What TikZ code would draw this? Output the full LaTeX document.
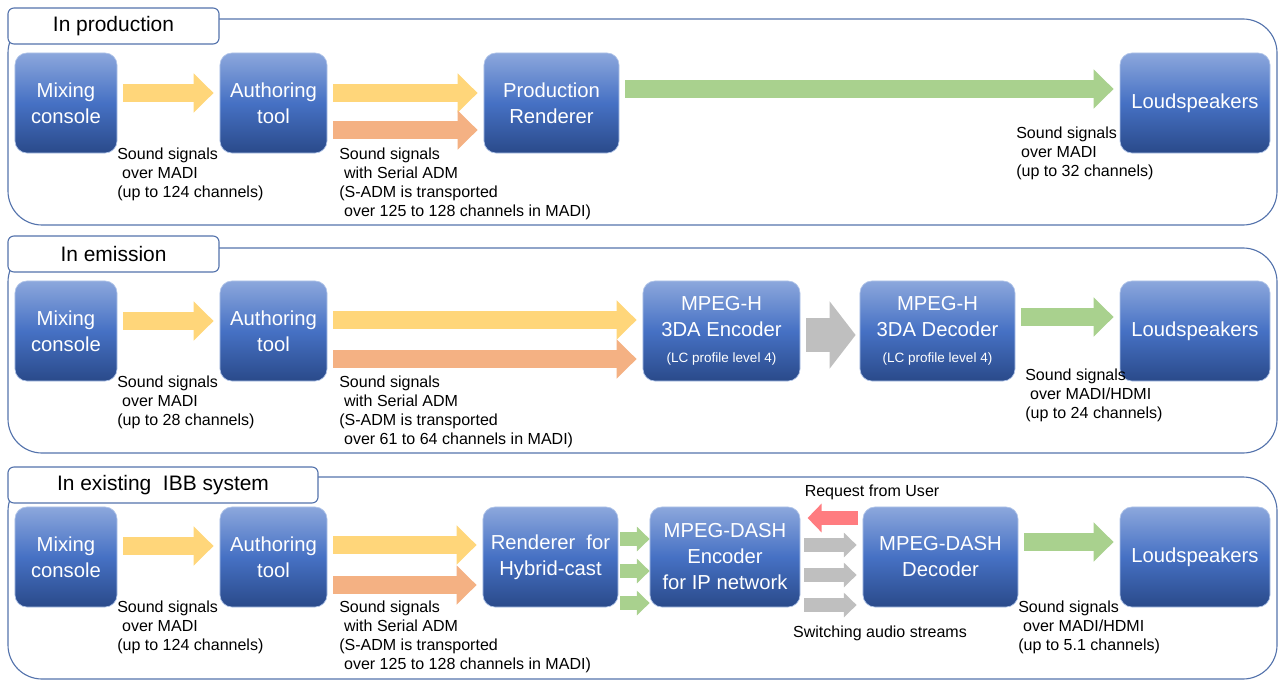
\documentclass[tikz,border=0pt]{standalone}
\usepackage{fontspec}
\setmainfont{Liberation Sans}
\usetikzlibrary{arrows.meta,calc,positioning}

\definecolor{panelline}{RGB}{84,115,172}
\definecolor{boxtop}{RGB}{140,167,220}
\definecolor{boxmid}{RGB}{70,113,196}
\definecolor{boxbot}{RGB}{42,74,138}
\definecolor{boxedge}{RGB}{176,196,232}
\definecolor{madiyellow}{RGB}{255,214,122}
\definecolor{admorange}{RGB}{244,177,131}
\definecolor{outgreen}{RGB}{169,209,142}
\definecolor{codecgray}{RGB}{191,191,191}
\definecolor{requestred}{RGB}{255,124,128}

\newcommand{\boxfont}{\fontsize{14.4}{18.5}\selectfont}
\newcommand{\notefont}{\fontsize{11.4}{13.3}\selectfont}
\newcommand{\tabfont}{\fontsize{14.9}{18}\selectfont}
\newcommand{\lcfont}{\fontsize{9.6}{10}\selectfont}
\newcommand{\indsp}{\hspace*{0.3em}}

\begin{document}
\begin{tikzpicture}[
    x = 0.025cm,
    y = -0.025cm
  ]
  \tikzstyle{block} = [
    draw = boxedge, line width = 0.5pt,
    rectangle, rounded corners = 0.3cm,
    top color = boxtop, bottom color = boxbot, middle color = boxmid,
    text = white,
    text centered,
    align          = center,
    font           = \boxfont,
    inner sep      = 1pt,
    minimum height = 2.5cm
  ]
  \tikzstyle{panel} = [draw = panelline, line width = 0.8pt, rounded corners = 0.85cm]
  \tikzstyle{tab}   = [
    draw = panelline, line width = 0.8pt, fill = white,
    rounded corners = 0.15cm,
    font           = \tabfont,
    minimum height = 0.9cm
  ]
  \tikzstyle{note}  = [anchor = north west, inner sep = 0pt, align = left, font = \notefont]
  \tikzstyle{fat}   = [line width = 0.45cm, -{Triangle[length=0.5cm,width=0.95cm]},
                       shorten <= 0.15cm, shorten >= 0.15cm]
  \tikzstyle{slim}  = [line width = 0.35cm, -{Triangle[length=0.32cm,width=0.6cm]},
                       shorten <= 0.1cm, shorten >= 0.1cm]

  \useasboundingbox (0,0) rectangle (1279,682);

  % frames
  \draw [panel] (8,19)  rectangle (1277,225);
  \draw [panel] (8,248) rectangle (1277,453);
  \draw [panel] (8,477) rectangle (1277,679);

  \node [tab, minimum width = 5.275cm] (tabprod) at (113.5,26)  {In production};
  \node [tab, minimum width = 5.275cm] (tabemis) at (113.5,254) {In emission};
  \node [tab, minimum width = 7.75cm]  (tabibb)  at (163,485)   {In existing\ \ IBB system};

  % in production
  \node [block, minimum width = 2.55cm]  (mixing1)    at (66,103)    {Mixing\\console};
  \node [block, minimum width = 2.675cm] (authoring1) at (273.5,103) {Authoring\\tool};
  \node [block, minimum width = 3.375cm] (renderer1)  at (551.5,103) {Production\\Renderer};
  \node [block, minimum width = 3.75cm]  (speakers1)  at (1195,103)  {Loudspeakers};

  \draw [fat, madiyellow] ([yshift=0.25cm]mixing1.east)    -- ([yshift=0.25cm]authoring1.west);
  \draw [fat, madiyellow] ([yshift=0.25cm]authoring1.east) -- ([yshift=0.25cm]renderer1.west);
  \draw [fat, admorange]  ([yshift=-0.675cm]authoring1.east) -- ([yshift=-0.675cm]renderer1.west);
  \draw [fat, outgreen]   ([yshift=0.35cm]renderer1.east)  -- ([yshift=0.35cm]speakers1.west);

  \node [note] (madi1) at (117,148)  {Sound signals\\\indsp over MADI\\(up to 124 channels)};
  \node [note] (sadm1) at (339,148)  {Sound signals\\\indsp with Serial ADM\\(S-ADM is transported\\\indsp over 125 to 128 channels in MADI)};
  \node [note] (out1)  at (1016,127) {Sound signals\\\indsp over MADI\\(up to 32 channels)};

  % in emission
  \node [block, minimum width = 2.55cm]  (mixing2)    at (66,331)    {Mixing\\console};
  \node [block, minimum width = 2.675cm] (authoring2) at (273.5,331) {Authoring\\tool};
  \node [block, minimum width = 3.925cm] (encoder2)   at (721.5,331) {MPEG-H\\3DA Encoder\\{\lcfont (LC profile level 4)}};
  \node [block, minimum width = 3.875cm] (decoder2)   at (937.5,331) {MPEG-H\\3DA Decoder\\{\lcfont (LC profile level 4)}};
  \node [block, minimum width = 3.75cm]  (speakers2)  at (1195,331)  {Loudspeakers};

  \draw [fat, madiyellow] ([yshift=0.25cm]mixing2.east)    -- ([yshift=0.25cm]authoring2.west);
  \draw [fat, madiyellow] ([yshift=0.275cm]authoring2.east) -- ([yshift=0.275cm]encoder2.west);
  \draw [fat, admorange]  ([yshift=-0.7cm]authoring2.east) -- ([yshift=-0.7cm]encoder2.west);
  \draw [codecgray, line width = 0.85cm, -{Triangle[length=0.65cm,width=1.65cm]},
         shorten <= 0.15cm, shorten >= 0.1cm]
        ([yshift=-0.1cm]encoder2.east) -- ([yshift=-0.1cm]decoder2.west);
  \draw [fat, outgreen]   ([yshift=0.35cm]decoder2.east)   -- ([yshift=0.35cm]speakers2.west);

  \node [note] (madi2) at (117,376)  {Sound signals\\\indsp over MADI\\(up to 28 channels)};
  \node [note] (sadm2) at (339,376)  {Sound signals\\\indsp with Serial ADM\\(S-ADM is transported\\\indsp over 61 to 64 channels in MADI)};
  \node [note] (out2)  at (1025,369) {Sound signals\\\indsp over MADI/HDMI\\(up to 24 channels)};

  % in existing IBB system
  \node [block, minimum width = 2.55cm]  (mixing3)    at (66,557)    {Mixing\\console};
  \node [block, minimum width = 2.675cm] (authoring3) at (273.5,557) {Authoring\\tool};
  \node [block, minimum width = 3.375cm] (renderer3)  at (550.5,557) {Renderer\ \ for\\Hybrid-cast};
  \node [block, minimum width = 3.75cm]  (dashenc3)   at (725,557)   {MPEG-DASH\\Encoder\\for IP network};
  \node [block, minimum width = 3.875cm] (dashdec3)   at (940.5,557) {MPEG-DASH\\Decoder};
  \node [block, minimum width = 3.75cm]  (speakers3)  at (1195,557)  {Loudspeakers};

  \draw [fat, madiyellow] ([yshift=0.275cm]mixing3.east)   -- ([yshift=0.275cm]authoring3.west);
  \draw [fat, madiyellow] ([yshift=0.3cm]authoring3.east)  -- ([yshift=0.3cm]renderer3.west);
  \draw [fat, admorange]  ([yshift=-0.7cm]authoring3.east) -- ([yshift=-0.7cm]renderer3.west);
  \foreach \dy in {0.45cm,-0.35cm,-1.15cm}
    \draw [slim, outgreen, shorten <= 0.05cm, shorten >= 0cm]
          ([yshift=\dy]renderer3.east) -- ([yshift=\dy]dashenc3.west);
  \foreach \dy in {0.3cm,-0.45cm,-1.2cm}
    \draw [slim, codecgray, shorten <= 0.1cm, shorten >= 0.15cm]
          ([yshift=\dy]dashenc3.east) -- ([yshift=\dy]dashdec3.west);
  \draw [slim, requestred, line width = 0.33cm, -{Triangle[length=0.35cm,width=0.7cm]},
         shorten <= 0.12cm, shorten >= 0.18cm]
        ([yshift=0.975cm]dashdec3.west) -- ([yshift=0.975cm]dashenc3.east);
  \draw [fat, outgreen]   ([yshift=0.375cm]dashdec3.east)  -- ([yshift=0.375cm]speakers3.west);

  \node [note] (madi3) at (117,601)  {Sound signals\\\indsp over MADI\\(up to 124 channels)};
  \node [note] (sadm3) at (339,601)  {Sound signals\\\indsp with Serial ADM\\(S-ADM is transported\\\indsp over 125 to 128 channels in MADI)};
  \node [note] (out3)  at (1018,601) {Sound signals\\\indsp over MADI/HDMI\\(up to 5.1 channels)};
  \node [font = \notefont] (request)   at (872,492) {Request from User};
  \node [font = \notefont] (switching) at (880,633) {Switching audio streams};
\end{tikzpicture}
\end{document}
